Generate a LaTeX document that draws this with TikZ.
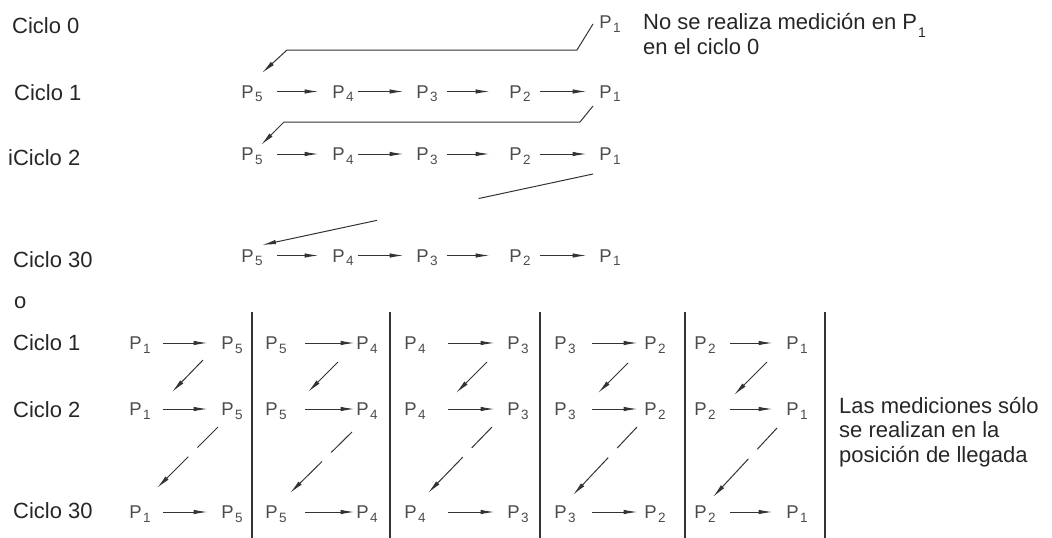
\documentclass[tikz,border=0pt]{standalone}
\usepackage{fontspec}
\setmainfont{Liberation Sans}
\usetikzlibrary{arrows.meta,calc}
\newcommand\PL[1]{{\fontsize{18.5}{18.5}\selectfont P\kern1.5pt\raisebox{-3.5pt}{\fontsize{13.5}{13.5}\selectfont #1}}}
\begin{document}
\begin{tikzpicture}[x=1pt,y=-1pt,
  lbl/.style={anchor=base west,font=\fontsize{22}{24.5}\selectfont,text=black!85,inner sep=0},
  pn/.style={inner sep=0,text height=13.2pt,text depth=0pt,text=black!70},
  arr/.style={line width=1pt,draw=black!80,-{Latex[length=14pt,width=4.5pt]}},
  ln/.style={line width=1pt,draw=black!80},
  sep/.style={line width=1.6pt,draw=black!80}]
\useasboundingbox (0,0) rectangle (1052,538);

% left labels
\node[lbl] (c0) at (12,33) {Ciclo 0};
\node[lbl] (c1) at (14,100) {Ciclo 1};
\node[lbl] (c2) at (8,165) {iCiclo 2};
\node[lbl] (c30) at (13,267) {Ciclo 30};
\node[lbl] (oo) at (14,308) {o};
\node[lbl] (b1) at (13,350) {Ciclo 1};
\node[lbl] (b2) at (13,417) {Ciclo 2};
\node[lbl] (b30) at (13,518) {Ciclo 30};

% right notes (base anchor = last line)
\node[lbl,align=left] (n1) at (643,54) {No se realiza medición en P\kern1pt\raisebox{-8pt}{\fontsize{14}{14}\selectfont 1}\\en el ciclo 0};
\node[lbl,align=left] (n2) at (839,462) {Las mediciones sólo\\se realizan en la\\posición de llegada};

% top chains
\node[pn] (t0p1) at (610,22) {\PL{1}};
\foreach \r/\y in {1/91.5,2/154,3/255.5}{
  \node[pn] (t\r p5) at (252,\y) {\PL{5}};
  \node[pn] (t\r p4) at (343,\y) {\PL{4}};
  \node[pn] (t\r p3) at (427,\y) {\PL{3}};
  \node[pn] (t\r p2) at (520,\y) {\PL{2}};
  \node[pn] (t\r p1) at (610,\y) {\PL{1}};
  \draw[arr,shorten <=14.6pt,shorten >=13.6pt] (t\r p5) -- (t\r p4);
  \draw[arr,shorten <=4.6pt,shorten >=12.6pt] (t\r p4) -- (t\r p3);
  \draw[arr,shorten <=9.6pt,shorten >=19.6pt] (t\r p3) -- (t\r p2);
  \draw[arr,shorten <=9.6pt,shorten >=12.6pt] (t\r p2) -- (t\r p1);
}

% connectors between top cycles
\coordinate (k0a) at (593,24);
\coordinate (k0b) at (577,50);
\coordinate (k0c) at (287,50);
\coordinate (k0d) at (262,73);
\draw[arr] (k0a) -- (k0b) -- (k0c) -- (k0d);
\coordinate (k1a) at (593,106);
\coordinate (k1b) at (580,122);
\coordinate (k1c) at (284,122);
\coordinate (k1d) at (261,145);
\draw[arr] (k1a) -- (k1b) -- (k1c) -- (k1d);
\coordinate (k2a) at (593,174);
\coordinate (k2d) at (262,245);
\draw[arr,dash pattern=on 117pt off 104pt on 200pt off 0pt] (k2a) -- (k2d);

% bottom table
\foreach \row/\y in {a/343,b/409,c/512}{
  \foreach \col/\xa/\xb/\la/\lb/\sa/\sb in {1/140/232/1/5/12.6/13.6,2/276/367/5/4/18.6/1.6,3/415/518/4/3/22.6/12.6,4/565/655/3/2/16.6/6.6,5/705/797/2/1/14.6/13.6}{
    \node[pn] (L\col\row) at (\xa,\y) {\PL{\la}};
    \node[pn] (R\col\row) at (\xb,\y) {\PL{\lb}};
    \draw[arr,shorten <=\sa pt,shorten >=\sb pt] (L\col\row) -- (R\col\row);
  }
}

% diagonal arrows in the table
\foreach \col/\ax/\ay/\bx/\by/\cx/\cy/\dx/\dy in {1/203/360/172/392/218/427/157/488,2/338/362/308/392/352/432/290/493,3/487/362/456/393/492/427/428/493,4/628/363/598/393/637/427/573/495,5/767/362/734/395/777/428/713/497}{
  \coordinate (da\col) at (\ax,\ay);
  \coordinate (db\col) at (\bx,\by);
  \coordinate (dc\col) at (\cx,\cy);
  \coordinate (dd\col) at (\dx,\dy);
  \draw[arr] (da\col) -- (db\col);
  \draw[arr,dash pattern=on 29pt off 13pt on 80pt off 0pt] (dc\col) -- (dd\col);
}

% separators
\foreach \i/\x in {1/252,2/390,3/540,4/685,5/825}{
  \coordinate (st\i) at (\x,312);
  \coordinate (sb\i) at (\x,538);
  \draw[sep] (st\i) -- (sb\i);
}
\end{tikzpicture}
\end{document}
